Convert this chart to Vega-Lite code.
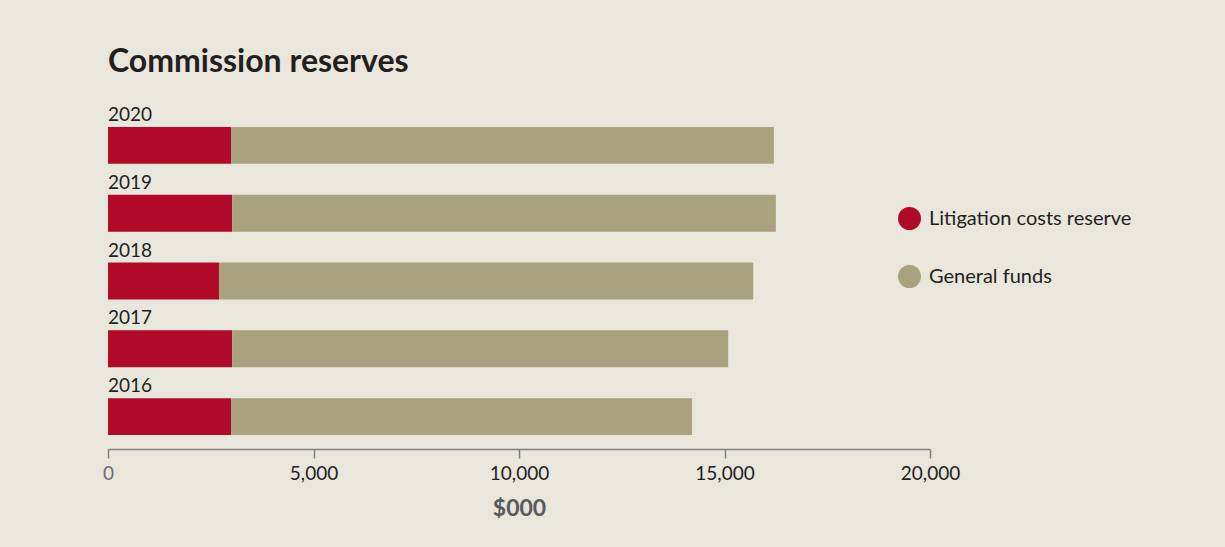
{
  "$schema": "https://vega.github.io/schema/vega-lite/v6.json",
  "autosize": "none",
  "width": 822,
  "height": 336,
  "padding": {"left": 108, "top": 113, "right": 295, "bottom": 98},
  "background": "#E9E6DC",
  "title": {
    "text": "Commission reserves",
    "anchor": "start",
    "frame": "group",
    "font": "Lato",
    "fontSize": 32,
    "fontWeight": "bold",
    "color": "#231F20",
    "baseline": "alphabetic",
    "offset": 2
  },
  "config": {
    "view": {"stroke": null},
    "font": "Lato"
  },
  "data": {
    "values": [
      {"year": "2020", "category": "Litigation costs reserve", "ord": 1, "value": 3000},
      {"year": "2020", "category": "General funds", "ord": 2, "value": 13200},
      {"year": "2019", "category": "Litigation costs reserve", "ord": 1, "value": 3020},
      {"year": "2019", "category": "General funds", "ord": 2, "value": 13230},
      {"year": "2018", "category": "Litigation costs reserve", "ord": 1, "value": 2700},
      {"year": "2018", "category": "General funds", "ord": 2, "value": 13000},
      {"year": "2017", "category": "Litigation costs reserve", "ord": 1, "value": 3020},
      {"year": "2017", "category": "General funds", "ord": 2, "value": 12070},
      {"year": "2016", "category": "Litigation costs reserve", "ord": 1, "value": 3000},
      {"year": "2016", "category": "General funds", "ord": 2, "value": 11210}
    ]
  },
  "layer": [
    {
      "mark": {"type": "bar"},
      "encoding": {
        "y": {
          "field": "year", "type": "ordinal", "sort": "descending",
          "scale": {"paddingInner": 0.456, "paddingOuter": 0.206},
          "axis": null
        },
        "x": {
          "field": "value", "type": "quantitative", "stack": "zero",
          "scale": {"domain": [0, 20000], "nice": false},
          "axis": {
            "values": [0, 5000, 10000, 15000, 20000],
            "format": ",.0f",
            "grid": false,
            "domainColor": "#808080",
            "domainWidth": 1.5,
            "tickColor": "#808080",
            "tickWidth": 1.5,
            "tickSize": 9,
            "labelFontSize": 19,
            "labelPadding": 6,
            "labelColor": {"condition": {"test": "datum.value === 0", "value": "#6D6E71"}, "value": "#231F20"},
            "labelFlush": false,
            "title": "$000",
            "titleFontSize": 23,
            "titleFontWeight": "bold",
            "titleColor": "#58595B",
            "titlePadding": 14
          }
        },
        "color": {
          "field": "category", "type": "nominal",
          "scale": {
            "domain": ["Litigation costs reserve", "General funds"],
            "range": ["#B00A28", "#A8A27F"]
          },
          "legend": {
            "title": null,
            "orient": "none",
            "legendX": 790,
            "legendY": 94,
            "symbolType": "circle",
            "symbolSize": 529,
            "symbolStrokeWidth": 0,
            "symbolOpacity": 1,
            "labelFontSize": 20,
            "labelLimit": 400,
            "labelColor": "#231F20",
            "labelOffset": 8,
            "rowPadding": 35,
            "padding": 0
          }
        },
        "order": {"field": "ord", "type": "quantitative"}
      }
    },
    {
      "transform": [{"filter": "datum.ord === 1"}],
      "mark": {"type": "text", "align": "left", "baseline": "alphabetic", "dy": -6, "fontSize": 19, "color": "#231F20"},
      "encoding": {
        "y": {"field": "year", "type": "ordinal", "sort": "descending", "bandPosition": 0},
        "x": {"datum": 0},
        "text": {"field": "year"}
      }
    }
  ]
}
